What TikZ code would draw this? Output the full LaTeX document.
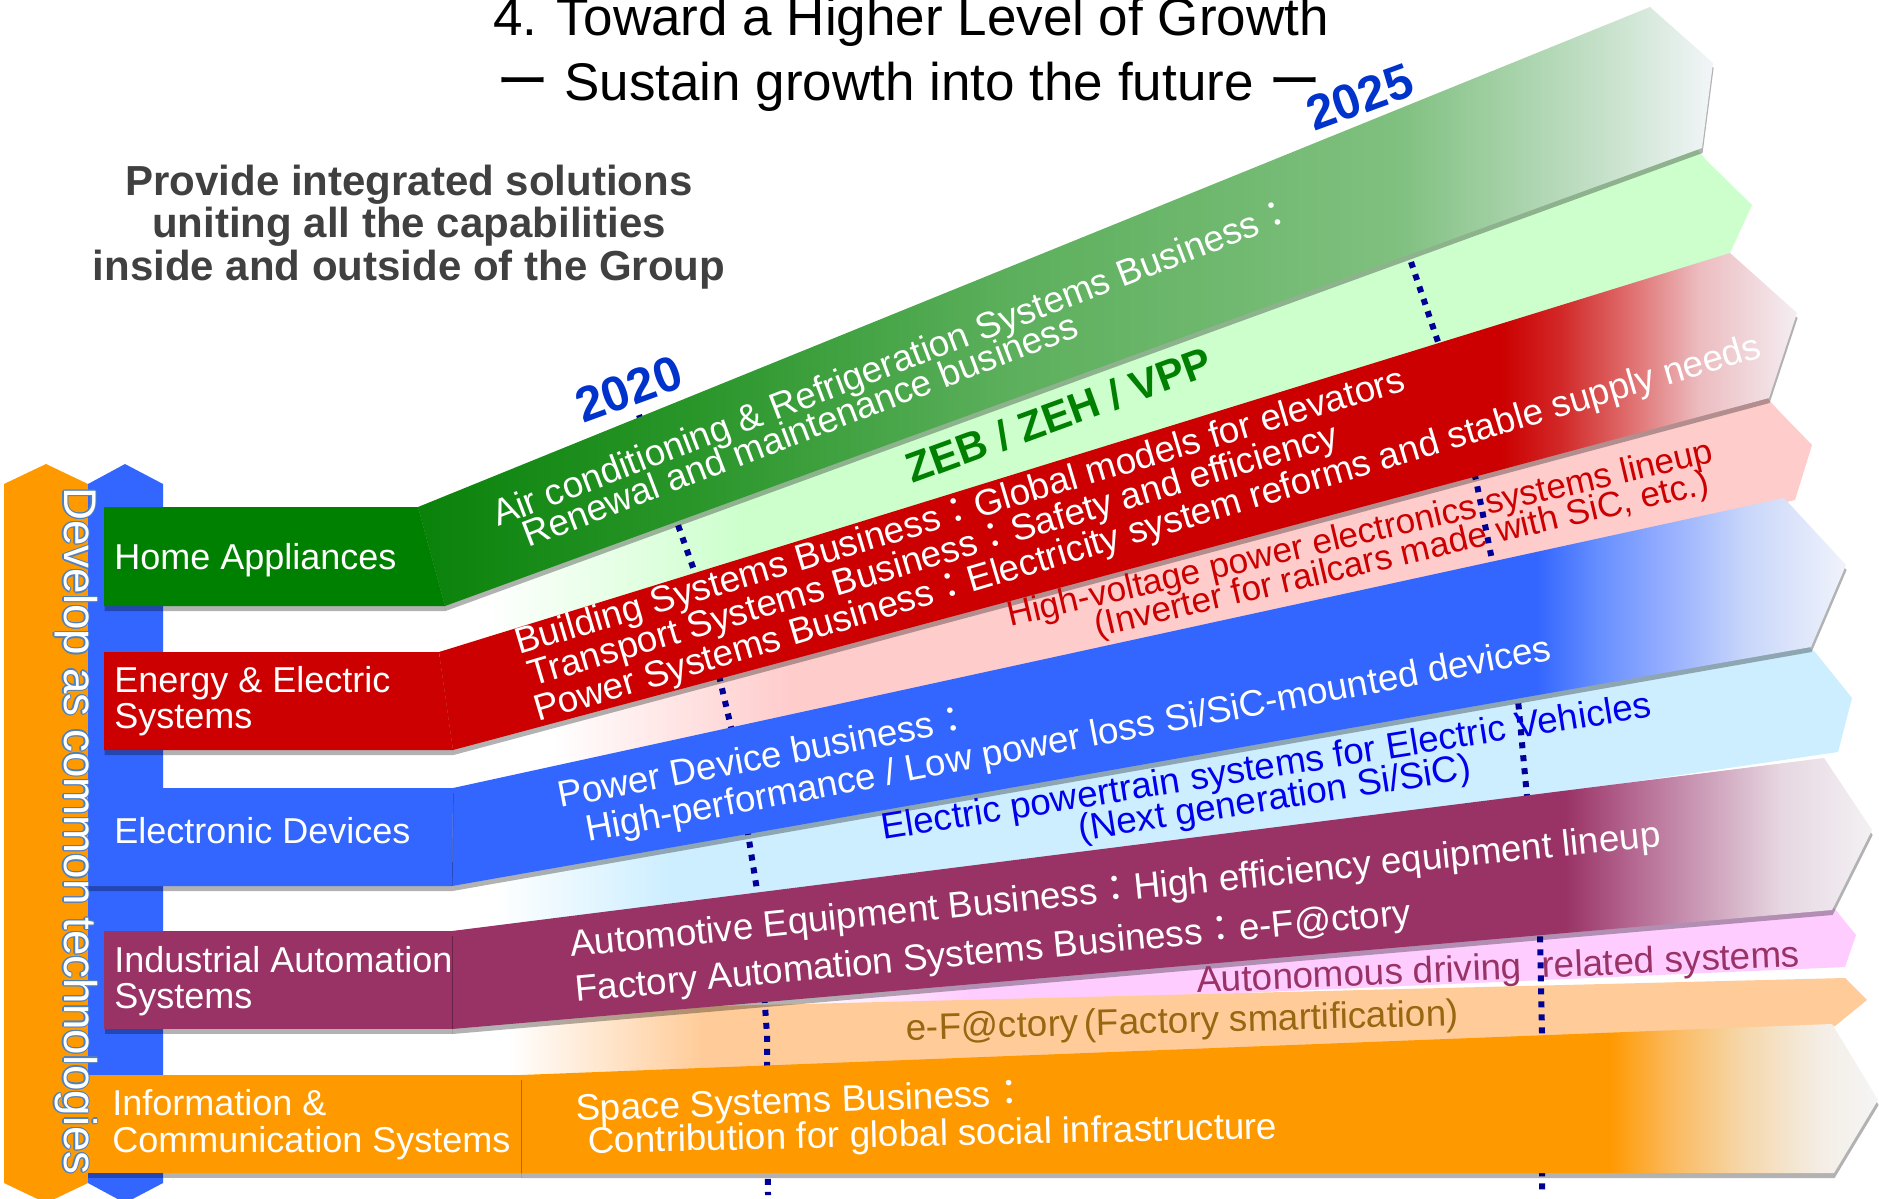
\documentclass[tikz,border=0pt]{standalone}
\usepackage{fontspec}
\setmainfont{Liberation Sans}
\newfontfamily\cjk{Noto Sans CJK JP}
\usetikzlibrary{shadows}

\definecolor{hagreen}{HTML}{008000}
\definecolor{eered}{HTML}{CC0000}
\definecolor{edblue}{HTML}{3366FF}
\definecolor{iapurple}{HTML}{993366}
\definecolor{icorange}{HTML}{FF9900}
\definecolor{bgZeb}{HTML}{CCFFCC}
\definecolor{bgRail}{HTML}{FFCCCC}
\definecolor{bgEv}{HTML}{CCEEFF}
\definecolor{bgAuto}{HTML}{FFCCFF}
\definecolor{bgFact}{HTML}{FFCC99}
\definecolor{yearblue}{HTML}{0033CC}
\definecolor{dotnavy}{HTML}{000099}
\definecolor{evblue}{HTML}{0000EE}
\definecolor{factgold}{HTML}{996611}
\definecolor{leadgray}{HTML}{404040}
\definecolor{outlineblue}{HTML}{4F81BD}
\definecolor{gdark}{HTML}{0A820A}
\definecolor{gstepA}{HTML}{2A962A}
\definecolor{gstepB}{HTML}{5BAF5B}
\definecolor{gstepC}{HTML}{80C080}
\definecolor{gstepD}{HTML}{C4E0C8}
\definecolor{tipgreen}{HTML}{F2F5F8}
\definecolor{rstepA}{HTML}{D22828}
\definecolor{rstepB}{HTML}{E07070}
\definecolor{rstepC}{HTML}{ECBCC0}
\definecolor{tipred}{HTML}{F4EEF2}
\definecolor{bstepA}{HTML}{6890FF}
\definecolor{bstepB}{HTML}{98B0FF}
\definecolor{bstepC}{HTML}{C8D6FA}
\definecolor{tipblue}{HTML}{F0F3FB}
\definecolor{ustepA}{HTML}{B46690}
\definecolor{ustepB}{HTML}{CDA0BA}
\definecolor{ustepC}{HTML}{E6D7E1}
\definecolor{tippurple}{HTML}{F3F1F4}
\definecolor{ostepA}{HTML}{FBB85A}
\definecolor{ostepB}{HTML}{F5D7AA}
\definecolor{ostepC}{HTML}{F4EDE4}
\definecolor{tiporange}{HTML}{F5F5F5}

\newcommand{\zcolon}{{\cjk ：}}
\newcommand{\zdash}{{\cjk ー}}

\pgfdeclarehorizontalshading{haband}{100bp}{color(0bp)=(gdark); color(25bp)=(gdark); color(35.8bp)=(gstepA); color(47.5bp)=(gstepB); color(62.9bp)=(gstepC); color(70.6bp)=(gstepD); color(75bp)=(tipgreen); color(100bp)=(tipgreen)}
\pgfdeclarehorizontalshading{eeband}{100bp}{color(0bp)=(eered); color(64.1bp)=(eered); color(66.3bp)=(rstepA); color(68.9bp)=(rstepB); color(71.4bp)=(rstepC); color(75bp)=(tipred); color(100bp)=(tipred)}
\pgfdeclarehorizontalshading{edband}{100bp}{color(0bp)=(edblue); color(63.9bp)=(edblue); color(66.2bp)=(bstepA); color(68.7bp)=(bstepB); color(71.4bp)=(bstepC); color(75bp)=(tipblue); color(100bp)=(tipblue)}
\pgfdeclarehorizontalshading{iaband}{100bp}{color(0bp)=(iapurple); color(64.2bp)=(iapurple); color(66.5bp)=(ustepA); color(69.2bp)=(ustepB); color(71.8bp)=(ustepC); color(75bp)=(tippurple); color(100bp)=(tippurple)}
\pgfdeclarehorizontalshading{icband}{100bp}{color(0bp)=(icorange); color(65.1bp)=(icorange); color(67.3bp)=(ostepA); color(70bp)=(ostepB); color(72.8bp)=(ostepC); color(75bp)=(tiporange); color(100bp)=(tiporange)}
\pgfdeclarehorizontalshading{zebfade}{100bp}{color(0bp)=(white); color(26bp)=(white); color(36bp)=(bgZeb); color(100bp)=(bgZeb)}
\pgfdeclarehorizontalshading{railfade}{100bp}{color(0bp)=(white); color(27bp)=(white); color(36bp)=(bgRail); color(100bp)=(bgRail)}
\pgfdeclarehorizontalshading{evfade}{100bp}{color(0bp)=(white); color(25.5bp)=(white); color(32bp)=(bgEv); color(100bp)=(bgEv)}
\pgfdeclarehorizontalshading{autofade}{100bp}{color(0bp)=(white); color(25bp)=(white); color(33bp)=(bgAuto); color(100bp)=(bgAuto)}
\pgfdeclarehorizontalshading{factfade}{100bp}{color(0bp)=(white); color(26bp)=(white); color(33bp)=(bgFact); color(100bp)=(bgFact)}

\tikzset{
  bandshadow/.style={drop shadow={shadow xshift=0.3pt, shadow yshift=-2.5pt, opacity=0.3, fill=black}},
  bandtext/.style={anchor=base west, inner sep=0pt, text=white, font=\fontsize{18.4}{18.4}\selectfont},
  boxtext/.style={anchor=base west, inner sep=0pt, text=white, font=\fontsize{18}{18}\selectfont},
  leadtext/.style={anchor=base, inner sep=0pt, text=leadgray, font=\bfseries\fontsize{21}{21}\selectfont},
  titletext/.style={anchor=base, inner sep=0pt, font=\fontsize{26.5}{26.5}\selectfont},
  yeartext/.style={anchor=base west, inner sep=0pt, text=yearblue, font=\bfseries\fontsize{24.5}{24.5}\selectfont, rotate=20},
  devtext/.style={anchor=base west, inner sep=0pt, rotate=-90, font=\fontsize{22.9}{22.9}\selectfont},
  yearline/.style={dotnavy, line width=3pt, dash pattern=on 3pt off 3.5pt}
}

\begin{document}
\begin{tikzpicture}[x=0.5pt, y=-0.5pt]
\useasboundingbox (0,0) rectangle (1879,1199);
\fill[white] (0,0) rectangle (1879,1199);

\node[titletext] (titleA) at (911,35) {4. Toward a Higher Level of Growth};
\node[titletext] (titleB) at (909,100) {\zdash\ Sustain growth into the future \zdash};

\node[leadtext] (leadA) at (409,195) {Provide integrated solutions};
\node[leadtext] (leadB) at (409,237) {uniting all the capabilities};
\node[leadtext] (leadC) at (409,280) {inside and outside of the Group};

\fill[icorange] (4,484) -- (46,464) -- (88,484) -- (88,1183) -- (46,1203) -- (4,1183) -- cycle;
\fill[edblue] (88,484) -- (125,464) -- (163,484) -- (163,1183) -- (125,1203) -- (88,1183) -- cycle;

\shade[shading=zebfade] (460,575) -- (1690,140) -- (1706,160) -- (1752,205) -- (1730,253) -- (460,690) -- cycle;
\shade[shading=railfade] (500,720) -- (1760,390) -- (1778,410) -- (1812,445) -- (1795,500) -- (500,800) -- cycle;
\shade[shading=evfade] (480,870) -- (1800,640) -- (1815,652) -- (1852,698) -- (1838,752) -- (480,950) -- cycle;
\shade[shading=autofade] (800,975) -- (1820,900) -- (1834,908) -- (1856,935) -- (1845,967) -- (800,1012) -- cycle;
\shade[shading=factfade] (480,1012) -- (1845,978) -- (1867,1000) -- (1835,1026) -- (480,1100) -- cycle;

\draw[yearline] (639,415) -- (695,573) -- (731,727) -- (757,890) -- (767,1035) -- (768,1195);
\draw[yearline] (1411,262) -- (1438,342) -- (1476,480) -- (1492,560) -- (1518,700) -- (1527,797) -- (1540,933) -- (1542,1033) -- (1542,1192);

\shade[shading=haband, bandshadow] (418,507) -- (1650,7) -- (1713,63) -- (1702,148) -- (445,606) -- cycle;
\fill[hagreen, bandshadow] (104,507) -- (418,507) -- (445,606) -- (104,606) -- cycle;
\shade[shading=eeband, bandshadow] (439,652) -- (1730,253) -- (1797,313) -- (1769,398) -- (453,750) -- cycle;
\fill[eered, bandshadow] (104,652) -- (439,652) -- (453,750) -- (104,750) -- cycle;
\shade[shading=edband, bandshadow] (453,788) -- (1784,498) -- (1846,565) -- (1811,647) -- (452,886) -- cycle;
\fill[edblue, bandshadow] (88,788) -- (453,788) -- (452,886) -- (88,886) -- cycle;
\shade[shading=iaband, bandshadow] (452,931) -- (1824,758) -- (1872,830) -- (1832,910) -- (452,1029) -- cycle;
\fill[iapurple, bandshadow] (104,931) -- (452,931) -- (452,1029) -- (104,1029) -- cycle;
\shade[shading=icband, bandshadow] (521,1075) -- (1832,1024) -- (1878,1100) -- (1834,1173) -- (521,1173) -- cycle;
\fill[icorange, bandshadow] (87,1075) -- (521,1075) -- (521,1173) -- (87,1173) -- cycle;

\foreach \dx/\dy in {0.6/0, -0.6/0, 0/0.6, 0/-0.6, 0.45/0.45, -0.45/0.45, 0.45/-0.45, -0.45/-0.45}
  \node[devtext, text=outlineblue, xshift=\dx pt, yshift=\dy pt] at (64,487) {Develop as common technologies};
\node[devtext, text=white] (develop) at (64,487) {Develop as common technologies};

\node[boxtext] (homeapp) at (114,569) {Home Appliances};
\node[boxtext] (energyA) at (114,692) {Energy \& Electric};
\node[boxtext] (energyB) at (114,728) {Systems};
\node[boxtext] (elecdev) at (114,843) {Electronic Devices};
\node[boxtext] (indautoA) at (114,972) {Industrial Automation};
\node[boxtext] (indautoB) at (114,1008) {Systems};
\node[boxtext] (infocomA) at (112,1115) {Information \&};
\node[boxtext] (infocomB) at (112,1152) {Communication Systems};

\node[yeartext] (year2020) at (583,424) {2020};
\node[yeartext] (year2025) at (1314,132) {2025};

\node[bandtext, rotate=21] (aircon) at (498,527) {Air conditioning \& Refrigeration Systems Business\zcolon};
\node[bandtext, rotate=21] (renewal) at (528,548) {Renewal and maintenance business};
\node[anchor=base west, inner sep=0pt, text=hagreen, font=\bfseries\fontsize{21}{21}\selectfont, rotate=20] (zeb) at (912,484) {ZEB / ZEH / VPP};

\node[bandtext, rotate=16.6] (building) at (519,655) {Building Systems Business\zcolon Global models for elevators};
\node[bandtext, rotate=16.6] (transport) at (532,687) {Transport Systems Business\zcolon Safety and efficiency};
\node[bandtext, rotate=16.6] (powersys) at (538,722) {Power Systems Business\zcolon Electricity system reforms and stable supply needs};
\node[bandtext, text=eered, rotate=13.2, font=\fontsize{17.6}{17.6}\selectfont] (hvpower) at (1010,627) {High-voltage power electronics systems lineup};
\node[bandtext, text=eered, rotate=13.2, font=\fontsize{17.6}{17.6}\selectfont] (inverter) at (1097,637) {(Inverter for railcars made with SiC, etc.)};

\node[bandtext, rotate=10.8] (powerdev) at (560,808) {Power Device business\zcolon};
\node[bandtext, rotate=10.7] (highperf) at (588,842) {High-performance / Low power loss Si/SiC-mounted devices};
\node[bandtext, text=evblue, rotate=9.1] (powertrain) at (883,840) {Electric powertrain systems for Electric Vehicles};
\node[bandtext, text=evblue, rotate=9] (nextgen) at (1080,841) {(Next generation Si/SiC)};

\node[bandtext, rotate=5.8] (automotive) at (571,957) {Automotive Equipment Business\zcolon High efficiency equipment lineup};
\node[bandtext, rotate=5.3] (factory) at (576,1002) {Factory Automation Systems Business\zcolon e-F@ctory};
\node[bandtext, text=iapurple, rotate=2.5] (autodrive) at (1197,993) {Autonomous driving \ related systems};
\node[bandtext, text=factgold, rotate=1.5] (smartfact) at (906,1040) {e-F@ctory\,(Factory smartification)};

\node[bandtext, rotate=2] (space) at (576,1121) {Space Systems Business\zcolon};
\node[bandtext, rotate=1.2] (infra) at (588,1153) {Contribution for global social infrastructure};
\end{tikzpicture}
\end{document}
